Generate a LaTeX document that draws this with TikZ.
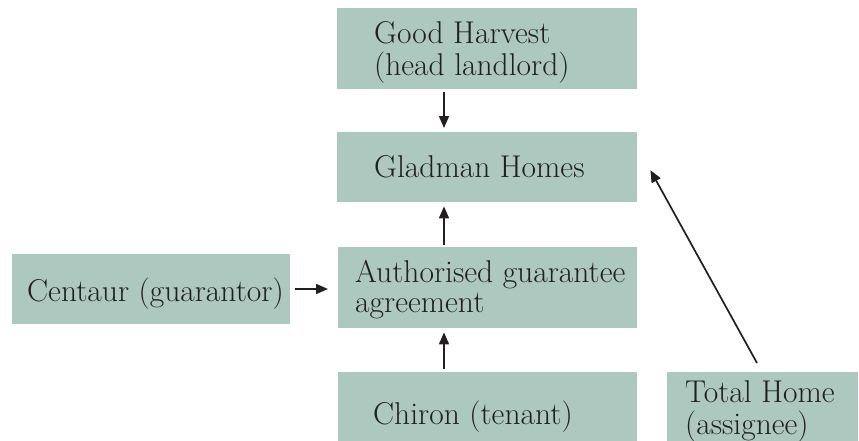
\documentclass[tikz,border=0pt]{standalone}
\usetikzlibrary{arrows.meta}
\definecolor{boxfill}{RGB}{173,200,190}
\definecolor{ink}{RGB}{35,31,32}
\begin{document}
\begin{tikzpicture}[x=1pt,y=-1pt,
  box/.style={fill=boxfill,draw=none,inner sep=0pt,anchor=north west},
  lbl/.style={anchor=base west,inner sep=0pt,text=ink,font=\fontsize{31.5}{30.5}\selectfont},
  arr/.style={draw=ink,line width=1.7pt,-{Triangle[length=12pt,width=10pt]}}]
\useasboundingbox (0,0) rectangle (859,440);
\clip (0,0) rectangle (859,440);
% boxes
\node[box,minimum width=300pt,minimum height=81pt] (gh) at (337,8) {};
\node[box,minimum width=300pt,minimum height=70pt] (gm) at (337,132) {};
\node[box,minimum width=299pt,minimum height=81pt] (aga) at (338,247) {};
\node[box,minimum width=278pt,minimum height=70pt] (cen) at (12,254) {};
\node[box,minimum width=299pt,minimum height=90pt] (chi) at (338,372) {};
\node[box,minimum width=191pt,minimum height=90pt] (th) at (667,372) {};
% texts
\node[lbl] (ghT) at (374,43) {\begin{tabular}[t]{@{}l@{}}Good Harvest\\(head landlord)\end{tabular}};
\node[lbl] (gmT) at (374,177) {Gladman Homes};
\node[lbl] (agaT) at (355,282) {\begin{tabular}[t]{@{}l@{}}Authorised guarantee\\agreement\end{tabular}};
\node[lbl] (cenT) at (27,301) {Centaur (guarantor)};
\node[lbl] (chiT) at (373,424) {Chiron (tenant)};
\node[lbl] (thT) at (685,402) {\begin{tabular}[t]{@{}l@{}}Total Home\\(assignee)\end{tabular}};
% connectors
\draw[arr] ([xshift=107pt,yshift=-3pt]gh.south west) -- ([xshift=107pt,yshift=4pt]gm.north west);
\draw[arr] ([xshift=106pt,yshift=2pt]aga.north west) -- ([xshift=107pt,yshift=-4pt]gm.south west);
\draw[arr] ([xshift=106pt,yshift=3pt]chi.north west) -- ([xshift=106pt,yshift=-4pt]aga.south west);
\draw[arr] ([xshift=5pt,yshift=-35pt]cen.north east) -- ([xshift=-10pt,yshift=-42pt]aga.north west);
\coordinate (tip) at ([xshift=13pt,yshift=-3pt]gm.east);
\draw[arr] ([xshift=90pt,yshift=9pt]th.north west) -- (tip);
\end{tikzpicture}
\end{document}
